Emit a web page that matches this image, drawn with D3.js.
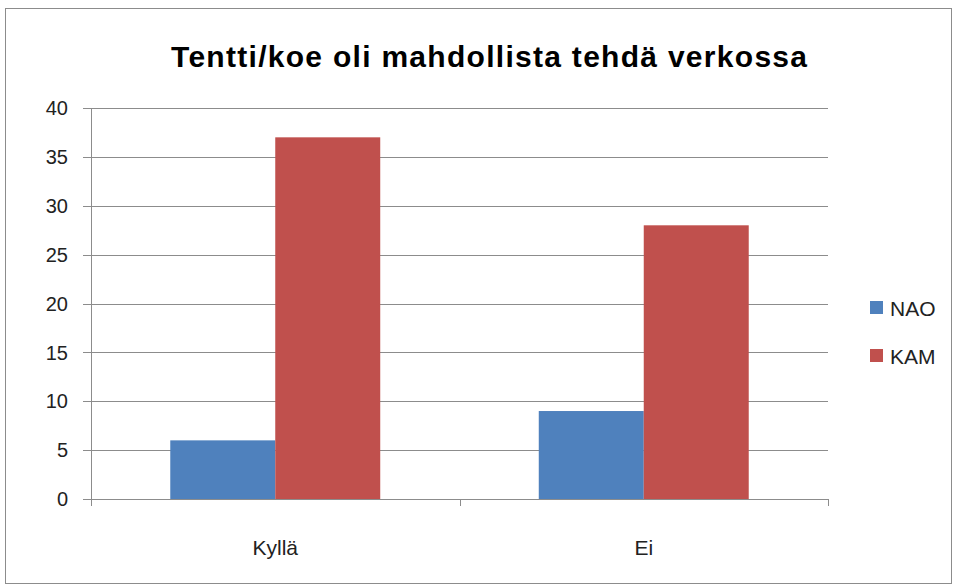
<!DOCTYPE html>
<html>
<head>
<meta charset="utf-8">
<script src="https://cdn.jsdelivr.net/npm/d3@7"></script>
<style>
  body { margin: 0; background: #fff; }
  text { font-family: "Liberation Sans", Arial, sans-serif; }
</style>
</head>
<body>
<script>
var categories = ["Kyllä", "Ei"];
var seriesNames = ["NAO", "KAM"];
var naoValues = [6, 9];
var kamValues = [37, 28];
var yTicks = [0, 5, 10, 15, 20, 25, 30, 35, 40];
var colors = ["#4F81BD", "#C0504D"];

var margin = { top: 108, left: 91, right: 130, bottom: 86 },
    width = 958 - margin.left - margin.right,
    height = 585 - margin.top - margin.bottom;

var svg = d3.select("body").append("svg")
    .attr("width", 958)
    .attr("height", 585);

// outer frame
svg.append("rect")
    .attr("x", 5.5).attr("y", 8.5)
    .attr("width", 946).attr("height", 575)
    .attr("fill", "#fff")
    .attr("stroke", "#8c8c8c")
    .attr("stroke-width", 1);

svg.append("text")
    .attr("x", 489)
    .attr("y", 67)
    .attr("text-anchor", "middle")
    .attr("textLength", 636)
    .attr("lengthAdjust", "spacing")
    .style("font-size", "30px")
    .style("font-weight", "bold")
    .attr("fill", "#000")
    .text("Tentti/koe oli mahdollista tehdä verkossa");

var g = svg.append("g")
    .attr("transform", "translate(" + margin.left + "," + margin.top + ")");

var x0 = d3.scaleBand().domain(categories).range([0, width]).paddingInner(0).paddingOuter(0);
var x1 = d3.scaleBand().domain(seriesNames).range([0, x0.bandwidth()]).paddingInner(0).paddingOuter(0.755);
var y = d3.scaleLinear().domain([0, 40]).range([height, 0]);

var data = categories.map(function(c, i) {
    return { cat: c, values: [naoValues[i], kamValues[i]] };
});

// gridlines
g.append("g")
    .selectAll("line")
    .data(yTicks)
    .enter().append("line")
    .attr("x1", -8).attr("x2", width)
    .attr("y1", function(d) { return Math.round(y(d)) + 0.5; })
    .attr("y2", function(d) { return Math.round(y(d)) + 0.5; })
    .attr("stroke", "#8c8c8c");

g.selectAll(".ytick")
    .data(yTicks)
    .enter().append("text")
    .attr("class", "ytick")
    .attr("x", -23)
    .attr("y", function(d) { return y(d); })
    .attr("dy", "0.36em")
    .attr("text-anchor", "end")
    .style("font-size", "20px")
    .attr("fill", "#222")
    .text(function(d) { return d; });

// bars
var groups = g.selectAll(".grp")
    .data(data)
    .enter().append("g")
    .attr("class", "grp")
    .attr("transform", function(d) { return "translate(" + x0(d.cat) + ",0)"; });

groups.selectAll("rect")
    .data(function(d) { return d.values.map(function(v, i) { return { name: seriesNames[i], v: v, i: i }; }); })
    .enter().append("rect")
    .attr("x", function(d) { return x1(d.name); })
    .attr("y", function(d) { return y(d.v); })
    .attr("width", x1.bandwidth())
    .attr("height", function(d) { return height - y(d.v); })
    .attr("fill", function(d) { return colors[d.i]; });

// axes lines
g.append("line")
    .attr("x1", 0.5).attr("x2", 0.5)
    .attr("y1", 0).attr("y2", height + 7)
    .attr("stroke", "#8c8c8c");
g.append("line")
    .attr("x1", -8).attr("x2", width)
    .attr("y1", height + 0.5).attr("y2", height + 0.5)
    .attr("stroke", "#8c8c8c");

var bounds = categories.map(function(c) { return x0(c); }).concat([width]);
g.selectAll(".xtickmark")
    .data(bounds)
    .enter().append("line")
    .attr("x1", function(d) { return Math.round(d) + 0.5; })
    .attr("x2", function(d) { return Math.round(d) + 0.5; })
    .attr("y1", height).attr("y2", height + 7)
    .attr("stroke", "#8c8c8c");

g.selectAll(".xlabel")
    .data(categories)
    .enter().append("text")
    .attr("x", function(d) { return x0(d) + x0.bandwidth() / 2; })
    .attr("y", height + 56)
    .attr("text-anchor", "middle")
    .style("font-size", "21px")
    .attr("fill", "#222")
    .text(function(d) { return d; });

// legend
var legend = svg.selectAll(".legend")
    .data(seriesNames)
    .enter().append("g")
    .attr("class", "legend")
    .attr("transform", function(d, i) { return "translate(870," + (301 + i * 48) + ")"; });

legend.append("rect")
    .attr("width", 13).attr("height", 13)
    .attr("fill", function(d, i) { return colors[i]; });

legend.append("text")
    .attr("x", 20)
    .attr("y", 7)
    .attr("dy", "0.36em")
    .style("font-size", "21px")
    .attr("fill", "#222")
    .text(function(d) { return d; });
</script>
</body>
</html>
